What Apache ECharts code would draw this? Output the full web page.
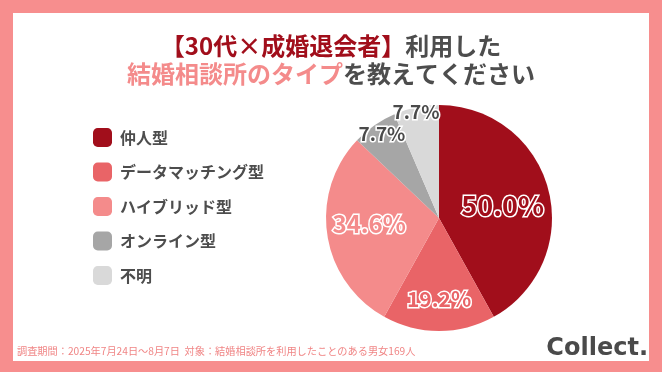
<!DOCTYPE html>
<html>
<head>
<meta charset="utf-8">
<script src="https://cdn.jsdelivr.net/npm/echarts@6/dist/echarts.min.js"></script>
<style>
html,body{margin:0;padding:0;background:#f78e8e;}
#chart{width:662px;height:372px;}
</style>
</head>
<body>
<div id="chart"></div>
<script>
// ---- data ----
const categories = ['仲人型', 'データマッチング型', 'ハイブリッド型', 'オンライン型', '不明'];
const values = [50.0, 19.2, 34.6, 7.7, 7.7];
const titleLine1A = '【30代×成婚退会者】';
const titleLine1B = '利用した';
const titleLine2A = '結婚相談所のタイプ';
const titleLine2B = 'を教えてください';
const footnote = '調査期間：2025年7月24日～8月7日  対象：結婚相談所を利用したことのある男女169人';
const brand = 'Collect.';

// ---- styles ----
const sliceColors = ['#a10e1b', '#e96467', '#f48b8b', '#a6a6a6', '#d9d9d9'];
const labelColors = ['#a10e1b', '#e96467', '#f48b8b', '#4a4a4a', '#4a4a4a'];
const labelSizes = [27, 21, 24, 19, 19];
const labelShift = [[6, 3], [0, 22], [-11, -3], [-23, -35], [-11, -48]];
const CJK = '"Noto Sans CJK JP", "Noto Sans", sans-serif';

const chart = echarts.init(document.getElementById('chart'), null, {renderer: 'canvas'});

const option = {
  backgroundColor: '#f78e8e',
  animation: false,
  graphic: [
    {type: 'rect', z: -10, shape: {x: 13, y: 13, width: 636, height: 348}, style: {fill: '#ffffff'}},
    {type: 'text', z: 10, x: 17, y: 351,
      style: {text: footnote, fill: '#f08585', font: '10.2px ' + CJK, verticalAlign: 'middle', align: 'left'}},
    {type: 'text', z: 10, x: 648, y: 349,
      style: {text: brand, fill: '#4a4a4a', font: 'bold 24px "DejaVu Sans", sans-serif', verticalAlign: 'middle', align: 'right'}}
  ],
  title: {
    left: 'center',
    top: 32,
    padding: 0,
    text: '{a|' + titleLine1A + '}{b|' + titleLine1B + '}\n{c|' + titleLine2A + '}{b|' + titleLine2B + '}',
    textStyle: {
      fontFamily: CJK,
      fontSize: 24,
      fontWeight: 'bold',
      lineHeight: 28,
      rich: {
        a: {color: '#a10e1b', fontSize: 24, fontWeight: 'bold', fontFamily: CJK, lineHeight: 28},
        b: {color: '#4d4d4d', fontSize: 24, fontWeight: 'bold', fontFamily: CJK, lineHeight: 28},
        c: {color: '#f48b8b', fontSize: 24, fontWeight: 'bold', fontFamily: CJK, lineHeight: 28}
      }
    }
  },
  legend: {
    orient: 'vertical',
    left: 93,
    top: 128,
    padding: 0,
    itemWidth: 19,
    itemHeight: 19,
    itemGap: 15.5,
    icon: 'roundRect',
    selectedMode: false,
    data: categories,
    textStyle: {
      color: '#4d4d4d',
      fontFamily: CJK,
      fontSize: 16,
      fontWeight: 'bold',
      padding: [0, 0, 0, 3]
    }
  },
  series: [{
    type: 'pie',
    center: [439, 218],
    radius: [0, 113],
    startAngle: 90,
    clockwise: true,
    avoidLabelOverlap: false,
    labelLine: {show: false},
    emphasis: {disabled: true},
    data: categories.map((name, i) => ({
      name: name,
      value: values[i],
      itemStyle: {color: sliceColors[i]},
      label: {
        show: true,
        position: 'inside',
        formatter: p => p.value.toFixed(1) + '%',
        color: labelColors[i],
        fontSize: labelSizes[i],
        fontWeight: 'bold',
        fontFamily: CJK,
        textBorderColor: '#ffffff',
        textBorderWidth: 3
      }
    })),
    labelLayout: function (params) {
      const s = labelShift[params.dataIndex];
      return {dx: s[0], dy: s[1]};
    }
  }]
};
chart.setOption(option);
</script>
</body>
</html>
